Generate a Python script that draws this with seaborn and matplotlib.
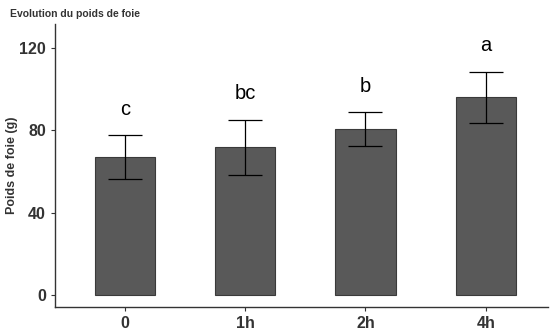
"""
Evolution du poids de foie - barplot avec écart-type et lettres de significativité
"""
import matplotlib
matplotlib.use('Agg')
import matplotlib.pyplot as plt
import seaborn as sns
import pandas as pd

# Données
temps = ['0', '1h', '2h', '4h']
poids_moyen = [67, 71.8, 80.6, 96.1]
ecart_type = [10.6, 13.4, 8.3, 12.4]
lettres = ['c', 'bc', 'b', 'a']

df = pd.DataFrame({'temps': temps, 'poids': poids_moyen, 'sd': ecart_type})

sns.set_style('white')
plt.rcParams['font.family'] = ['Liberation Sans', 'DejaVu Sans']

fig = plt.figure(figsize=(5.53, 3.34), dpi=100)
ax = fig.add_axes([0.0995, 0.081, 0.892, 0.847])

sns.barplot(data=df, x='temps', y='poids', color='#595959', width=0.5,
            edgecolor='#3a3a3a', linewidth=0.8, saturation=1, errorbar=None, ax=ax)

# Barres d'erreur
ax.errorbar(range(len(temps)), df['poids'], yerr=df['sd'], fmt='none',
            ecolor='black', elinewidth=0.9, capsize=12, capthick=0.9)

# Lettres de significativité
for i, (m, s, l) in enumerate(zip(poids_moyen, ecart_type, lettres)):
    ax.text(i, m + s + 8, l, ha='center', va='bottom', fontsize=14.5, color='black')

ax.set_ylim(-5.8, 131.7)
ax.set_xlim(-0.58, 3.52)
ax.set_yticks([0, 40, 80, 120])
ax.set_xlabel('')
ax.set_ylabel('Poids de foie (g)', fontsize=9, fontweight='bold', color='#333333',
              labelpad=1)
ax.tick_params(axis='both', labelsize=11.5, length=3, color='#333333', direction='out',
               bottom=True, left=True)
plt.setp(ax.get_xticklabels(), fontweight='bold', color='#333333')
plt.setp(ax.get_yticklabels(), fontweight='bold', color='#333333')

for side in ['top', 'right']:
    ax.spines[side].set_visible(False)
for side in ['left', 'bottom']:
    ax.spines[side].set_color('#333333')
    ax.spines[side].set_linewidth(1.0)

fig.text(0.018, 0.958, 'Evolution du poids de foie', fontsize=7.5, fontweight='bold',
         color='#333333', ha='left', va='center')

plt.savefig('out.png', dpi=100)
